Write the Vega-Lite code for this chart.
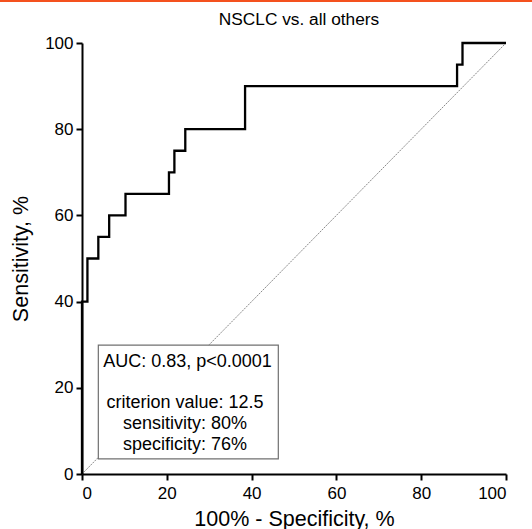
{
  "$schema": "https://vega.github.io/schema/vega-lite/v6.json",
  "width": 424,
  "height": 431,
  "autosize": "none",
  "padding": {"left": 82, "top": 43, "right": 26, "bottom": 55},
  "background": "white",
  "title": {
    "text": "NSCLC vs. all others",
    "font": "Liberation Sans",
    "fontSize": 17.3,
    "fontWeight": "normal",
    "color": "black",
    "frame": "group",
    "anchor": "middle",
    "offset": -28,
    "dx": 5
  },
  "config": {
    "view": {"stroke": null},
    "axis": {
      "grid": false,
      "domainColor": "black",
      "domainWidth": 2,
      "tickColor": "black",
      "tickWidth": 2,
      "tickSize": 6,
      "labelFont": "Liberation Sans",
      "labelFontSize": 17,
      "labelColor": "black",
      "labelPadding": 3,
      "titleFont": "Liberation Sans",
      "titleFontSize": 21.5,
      "titleFontWeight": "normal",
      "titleColor": "black"
    }
  },
  "datasets": {
    "roc": [
      {"fpr": 0, "tpr": 0},
      {"fpr": 0, "tpr": 40},
      {"fpr": 1.28, "tpr": 50},
      {"fpr": 3.85, "tpr": 55},
      {"fpr": 6.41, "tpr": 60},
      {"fpr": 10.26, "tpr": 65},
      {"fpr": 20.51, "tpr": 70},
      {"fpr": 21.79, "tpr": 75},
      {"fpr": 24.36, "tpr": 80},
      {"fpr": 38.46, "tpr": 90},
      {"fpr": 88.46, "tpr": 95},
      {"fpr": 89.74, "tpr": 100},
      {"fpr": 100, "tpr": 100}
    ],
    "diag": [
      {"fpr": 0, "tpr": 0},
      {"fpr": 100, "tpr": 100}
    ],
    "note": [
      {"part": "auc", "label": "AUC: 0.83, p<0.0001"},
      {"part": "crit", "label": "criterion value: 12.5\nsensitivity: 80%\nspecificity: 76%"}
    ]
  },
  "layer": [
    {
      "data": {"name": "diag"},
      "mark": {"type": "line", "color": "#8a8a8a", "strokeWidth": 1, "strokeDash": [2, 1]},
      "encoding": {
        "x": {"field": "fpr", "type": "quantitative", "scale": {"domain": [0, 100], "nice": false},
          "axis": {"values": [0, 20, 40, 60, 80, 100], "title": "100% - Specificity, %", "titlePadding": 7, "labelPadding": 5}},
        "y": {"field": "tpr", "type": "quantitative", "scale": {"domain": [0, 100], "nice": false},
          "axis": {"values": [0, 20, 40, 60, 80, 100], "title": "Sensitivity, %", "titlePadding": 12}}
      }
    },
    {
      "data": {"name": "roc"},
      "mark": {"type": "line", "color": "black", "strokeWidth": 2.3, "interpolate": "step-after"},
      "encoding": {
        "x": {"field": "fpr", "type": "quantitative"},
        "y": {"field": "tpr", "type": "quantitative"},
        "order": [{"field": "fpr", "type": "quantitative"}, {"field": "tpr", "type": "quantitative"}]
      }
    },
    {
      "data": {"name": "note"},
      "transform": [{"filter": "datum.part === 'auc'"}],
      "mark": {"type": "rect", "fill": "white", "stroke": "#707070", "strokeWidth": 1.2},
      "encoding": {
        "x": {"datum": 3.85},
        "x2": {"datum": 46.3},
        "y": {"datum": 3.5},
        "y2": {"datum": 29.9}
      }
    },
    {
      "data": {"name": "note"},
      "transform": [{"filter": "datum.part === 'auc'"}],
      "mark": {"type": "text", "font": "Liberation Sans", "fontSize": 18, "color": "black", "align": "center", "baseline": "middle"},
      "encoding": {
        "x": {"datum": 24.9},
        "y": {"datum": 26.06},
        "text": {"field": "label"}
      }
    },
    {
      "data": {"name": "note"},
      "transform": [{"filter": "datum.part === 'crit'"}],
      "mark": {"type": "text", "font": "Liberation Sans", "fontSize": 18, "color": "black", "align": "center", "baseline": "middle", "lineBreak": "\n", "lineHeight": 21.2},
      "encoding": {
        "x": {"datum": 24.3},
        "y": {"datum": 16.54},
        "text": {"field": "label"}
      }
    },
    {
      "data": {"name": "note"},
      "transform": [{"filter": "datum.part === 'auc'"}],
      "mark": {"type": "rule", "color": "#F4511E", "strokeWidth": 2, "clip": false},
      "encoding": {
        "x": {"datum": -19.4},
        "x2": {"datum": 106.2},
        "y": {"datum": 109.74}
      }
    }
  ]
}
